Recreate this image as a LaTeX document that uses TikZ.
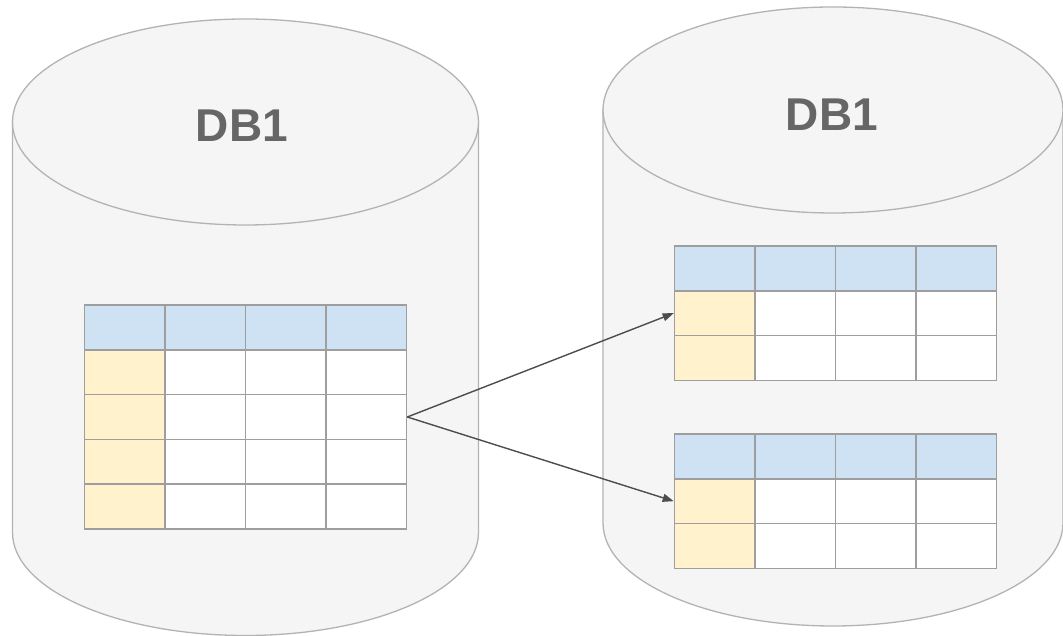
\documentclass[tikz,border=0pt]{standalone}
\usepackage{fontspec}
\setmainfont{Liberation Sans}
\usetikzlibrary{arrows.meta}
\definecolor{cylfill}{HTML}{F5F5F5}
\definecolor{cylline}{HTML}{B3B3B3}
\definecolor{hdrfill}{HTML}{CFE2F3}
\definecolor{keyfill}{HTML}{FFF2CC}
\definecolor{gridline}{HTML}{9E9E9E}
\definecolor{labeltext}{HTML}{666666}
\definecolor{arrowline}{HTML}{4D4D4D}
\tikzset{
  cylinder body/.style={fill=cylfill, draw=cylline, line width=1.3pt},
  dblabel/.style={text=labeltext, font=\fontsize{46}{55}\selectfont\bfseries, inner sep=0pt},
  cell/.style={draw=gridline, line width=1.6pt, minimum width=80.5pt, minimum height=44.8pt, inner sep=0pt, fill=white},
  hdrcell/.style={cell, fill=hdrfill},
  keycell/.style={cell, fill=keyfill},
  flow/.style={draw=arrowline, line width=1.4pt, -{Triangle[length=11pt,width=8pt]}}
}
% cell grid: #1 name prefix, #2 left x, #3 top y, #4 number of data rows
\newcommand{\dbtable}[4]{%
  \foreach \c in {1,...,4}{%
    \node[hdrcell] (#1-0-\c) at ({#2+(\c-0.5)*80.5}, {#3-0.5*44.8}) {};
  }
  \foreach \r in {1,...,#4}{%
    \node[keycell] (#1-\r-1) at ({#2+0.5*80.5}, {#3-(\r+0.5)*44.8}) {};
    \foreach \c in {2,3,4}{%
      \node[cell] (#1-\r-\c) at ({#2+(\c-0.5)*80.5}, {#3-(\r+0.5)*44.8}) {};
    }
  }
}
\begin{document}
\begin{tikzpicture}[x=1pt,y=1pt]
\useasboundingbox (0,0) rectangle (1063,636);

% source database cylinder
\path[cylinder body] (12.5,514) -- (12.5,103.5)
  arc[start angle=180, end angle=360, x radius=233, y radius=103] -- (478.5,514) -- cycle;
\path[cylinder body] (245.5,514) ellipse[x radius=233, y radius=103];
\node[dblabel] (srclabel) at (242,510) {DB1};

% target database cylinder
\path[cylinder body] (603,526) -- (603,113)
  arc[start angle=180, end angle=360, x radius=230, y radius=103] -- (1063,526) -- cycle;
\path[cylinder body] (833,526) ellipse[x radius=230, y radius=103];
\node[dblabel] (dstlabel) at (832,521) {DB1};

% tables
\dbtable{src}{84.5}{331}{4}
\dbtable{dsta}{674.5}{390}{2}
\dbtable{dstb}{674.5}{202}{2}

% split arrows
\draw[flow] (src-2-4.east) -- (dsta-1-1.west);
\draw[flow] (src-2-4.east) -- (dstb-1-1.west);
\end{tikzpicture}
\end{document}
